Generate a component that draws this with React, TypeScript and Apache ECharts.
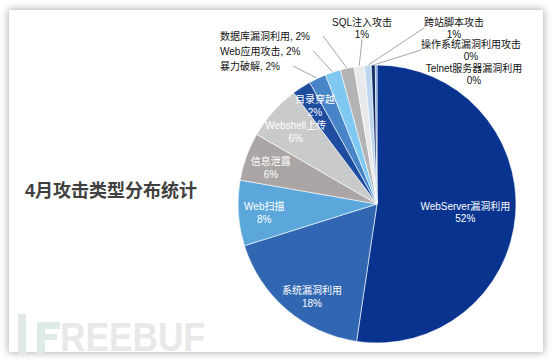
import React, { useEffect, useRef } from "react";
import * as echarts from "echarts";

// ---- data ----
const categories = [
  "WebServer漏洞利用",
  "系统漏洞利用",
  "Web扫描",
  "信息泄露",
  "Webshell上传",
  "目录穿越",
  "暴力破解",
  "Web应用攻击",
  "数据库漏洞利用",
  "SQL注入攻击",
  "跨站脚本攻击",
  "操作系统漏洞利用攻击",
  "Telnet服务器漏洞利用",
];
const values = [52.35, 17.8, 7.6, 5.6, 6.4, 2.2, 2.0, 1.8, 1.6, 1.2, 0.8, 0.45, 0.2];
const titleText = "4月攻击类型分布统计";
const watermarkText = "REEBUF";

// ---- styles ----
const colors = [
  "#08348f",
  "#3166b2",
  "#5ba7dc",
  "#aba6a5",
  "#c9caca",
  "#1e4c9f",
  "#4885c8",
  "#7ec8f1",
  "#b1b3b4",
  "#e8e9ea",
  "#bdd7ee",
  "#0f2a65",
  "#6f8fca",
];
const centerLabelNames = ["WebServer漏洞利用"];
const ringLabelNames = ["系统漏洞利用", "Web扫描", "信息泄露", "Webshell上传"];
const ringLabelShift: Record<string, [number, number]> = {
  "系统漏洞利用": [9, 6],
  "Web扫描": [1, 1],
  "信息泄露": [1, 3],
  "Webshell上传": [4, 4],
};
const leftLabelNames = ["暴力破解", "Web应用攻击", "数据库漏洞利用"];
const whiteLabelNames = ["目录穿越"];
const noLineNames = ["Telnet服务器漏洞利用", "目录穿越"];
const outsideLabelPos: Record<string, { x: number; y: number; align: string }> = {
  "目录穿越": { x: 315, y: 106, align: "center" },
  "暴力破解": { x: 220, y: 66, align: "left" },
  "Web应用攻击": { x: 220, y: 51, align: "left" },
  "数据库漏洞利用": { x: 220, y: 36, align: "left" },
  "SQL注入攻击": { x: 362, y: 28, align: "center" },
  "跨站脚本攻击": { x: 454, y: 28, align: "center" },
  "操作系统漏洞利用攻击": { x: 471, y: 50, align: "center" },
  "Telnet服务器漏洞利用": { x: 474, y: 74, align: "center" },
};

const FONT = '"Liberation Sans", "Noto Sans CJK SC", sans-serif';
const CX = 377;
const CY = 204;
const R = 139;

const pct = (p: any) => `${Math.round(p.percent)}%`;

export default function App() {
  const ref = useRef<HTMLDivElement>(null);
  useEffect(() => {
    if (!ref.current) return;
    const chart = echarts.init(ref.current, null, { renderer: "svg" });

    const mainData = categories.map((name, i) => {
      let label: any = { show: false };
      let labelLine: any = { show: false };
      if (centerLabelNames.includes(name)) {
        label = {
          show: true,
          position: "inside",
          color: "#fff",
          offset: [16, 3],
          formatter: (p: any) => `${p.name}\n${pct(p)}`,
        };
      } else if (outsideLabelPos[name]) {
        const isLeft = leftLabelNames.includes(name);
        const isWhite = whiteLabelNames.includes(name);
        label = {
          show: true,
          position: "outside",
          color: isWhite ? "#fff" : "#111",
          lineHeight: isWhite ? 13 : 12,
          formatter: isLeft
            ? (p: any) => `${p.name}, ${pct(p)}`
            : (p: any) => `${p.name}\n${pct(p)}`,
          ...(isLeft
            ? { backgroundColor: "transparent", padding: [0, 13, 0, 0] }
            : { padding: [0, 0, 0, 0] }),
        };
        labelLine = {
          show: !noLineNames.includes(name),
          length: 10,
          length2: 0,
          lineStyle: { color: "#a6a6a6", width: 1 },
        };
      }
      return { name, value: values[i], itemStyle: { color: colors[i] }, label, labelLine };
    });

    const ringData = categories.map((name, i) => ({
      name,
      value: values[i],
      label: ringLabelNames.includes(name)
        ? { show: true, position: "inside", color: "#fff", formatter: (p: any) => `${p.name}\n${pct(p)}` }
        : { show: false },
    }));

    chart.setOption({
      animation: false,
      textStyle: { fontFamily: FONT },
      title: {
        text: titleText,
        left: 25,
        top: 182,
        padding: 0,
        textStyle: { fontSize: 18, fontWeight: "bold", color: "#404040", fontFamily: FONT },
      },
      graphic: [
        { type: "rect", shape: { x: 18, y: 314, width: 8, height: 40 }, style: { fill: "#e0ebe5" }, silent: true },
        { type: "rect", shape: { x: 37, y: 322, width: 23, height: 7 }, style: { fill: "#e0ebe5" }, silent: true },
        { type: "rect", shape: { x: 37, y: 322, width: 8, height: 32 }, style: { fill: "#e0ebe5" }, silent: true },
        { type: "rect", shape: { x: 37, y: 334, width: 20, height: 6 }, style: { fill: "#e0ebe5" }, silent: true },
        {
          type: "text",
          x: 60,
          y: 337,
          scaleX: 0.86,
          silent: true,
          style: {
            text: watermarkText,
            fill: "#e8e8e8",
            font: `bold 41px ${FONT}`,
            verticalAlign: "middle",
          },
        },
      ],
      series: [
        {
          type: "pie",
          center: [CX, CY],
          radius: [0, R],
          startAngle: 90,
          clockwise: true,
          avoidLabelOverlap: false,
          silent: true,
          itemStyle: { borderColor: "#fff", borderWidth: 0.6 },
          label: { fontSize: 10, lineHeight: 12, fontFamily: FONT },
          labelLayout: (params: any) => {
            const name = categories[params.dataIndex];
            const p = outsideLabelPos[name];
            if (!p) return {};
            return { x: p.x, y: p.y, align: p.align, verticalAlign: "middle" };
          },
          data: mainData,
          z: 2,
        },
        {
          type: "pie",
          center: [CX, CY],
          radius: [Math.round(R * 0.6), R],
          startAngle: 90,
          clockwise: true,
          avoidLabelOverlap: false,
          silent: true,
          itemStyle: { color: "rgba(0,0,0,0)", borderWidth: 0 },
          label: { fontSize: 10, lineHeight: 13, fontFamily: FONT },
          labelLine: { show: false },
          labelLayout: (params: any) => {
            const s = ringLabelShift[categories[params.dataIndex]];
            return s ? { dx: s[0], dy: s[1] } : {};
          },
          data: ringData,
          z: 3,
        },
      ],
    });
    return () => chart.dispose();
  }, []);

  return (
    <div style={{ position: "fixed", left: 0, top: 0, width: 554, height: 362, background: "#fff" }}>
      <div
        style={{
          position: "absolute",
          left: 9,
          top: 10,
          width: 534,
          height: 342,
          background: "#fff",
          boxShadow: "0 0 7px 1px rgba(0,0,0,0.3)",
        }}
      />
      <div ref={ref} style={{ position: "absolute", left: 0, top: 0, width: 554, height: 362 }} />
    </div>
  );
}
